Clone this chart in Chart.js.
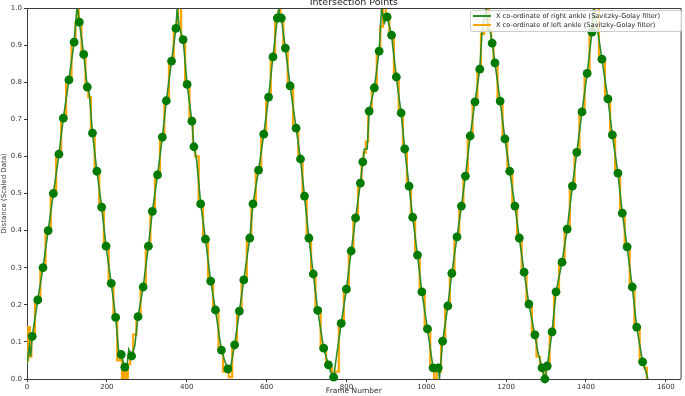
<!DOCTYPE html>
<html>
<head>
<meta charset="utf-8">
<script src="https://cdn.jsdelivr.net/npm/chart.js@4.4.0/dist/chart.umd.min.js"></script>
<style>
  html, body { margin: 0; padding: 0; background: #fff; }
</style>
</head>
<body>
<canvas id="chart_intersections" width="685" height="396"></canvas>
<script>
// frames where the two filtered ankle curves have a point
const frames = [
  0, 6, 9, 13, 27, 40, 53, 66, 80, 91, 105, 118, 125, 128, 131,
  142, 151, 156, 164, 175, 187, 198, 211, 222, 230, 236, 240, 245, 250, 255, 262, 270, 278,
  291, 304, 314, 327, 339, 349, 362, 373, 376, 381,
  391, 401, 413, 418, 425, 435, 447, 460, 472, 487, 495, 503, 508, 520, 532,
  543, 558, 566, 580, 593, 605, 616, 627, 631, 633, 637,
  647, 659, 674, 685, 695, 706, 717, 728, 743, 755, 760, 768, 775, 787,
  800, 812, 823, 835, 841, 845, 852, 857, 870, 882, 888, 895, 902, 913,
  925, 937, 946, 957, 966, 978, 989, 1003, 1017, 1022, 1030, 1033, 1041, 1054,
  1064, 1077, 1088, 1098, 1110, 1122, 1134, 1140, 1150, 1155, 1160, 1165, 1172,
  1185, 1197, 1209, 1222, 1233, 1245, 1257, 1272, 1280, 1290, 1297, 1303, 1315,
  1325, 1340, 1353, 1366, 1377, 1390, 1403, 1415, 1419, 1425,
  1440, 1455, 1466, 1480, 1491, 1503, 1516, 1527, 1542, 1550, 1555
];

let rightAnkle = [
  .04, .09, .06, .115, .213, .30, .40, .50, .606, .703, .806, .908, 1.0, .99, .962,
  .875, .787, .77, .663, .56, .463, .358, .258, .166, .07, .066, .05, .032, .03, .08, .062, .09, .168,
  .248, .358, .452, .55, .652, .75, .857, .945, 1.0, .95,
  .915, .794, .695, .626, .59, .472, .377, .264, .186, .078, .05, .027, .02, .092, .183,
  .267, .38, .472, .563, .66, .76, .868, .973, 1.0, .97, .973,
  .892, .79, .676, .593, .493, .38, .283, .185, .083, .038, .02, .005, .06, .15,
  .242, .345, .434, .528, .585, .62, .62, .722, .785, .884, 1.0, .96, .976, .927,
  .814, .717, .62, .52, .436, .334, .235, .135, .03, .02, .03, .0, .102, .197,
  .285, .383, .466, .547, .655, .747, .835, .94, 1.0, .94, .94, .905, .852,
  .749, .647, .56, .466, .38, .288, .202, .119, .07, .03, .0, .035, .127,
  .235, .315, .404, .52, .611, .72, .824, .935, 1.0, .97,
  .862, .755, .658, .555, .447, .356, .248, .14, .046, .02, .0
];

let leftAnkle = [
  .05, .14, .06, .115, .213, .30, .40, .50, .606, .703, .806, .908, .96, 1.0, .962,
  .875, .787, .76, .663, .56, .463, .358, .258, .166, .05, .066, .0, .032, .0, .04, .062, .12, .168,
  .248, .358, .452, .55, .652, .75, .857, .945, .96, 1.0,
  .915, .794, .695, .626, .60, .472, .377, .264, .186, .078, .02, .027, .005, .092, .183,
  .267, .38, .472, .563, .66, .76, .868, .973, .99, 1.0, .973,
  .892, .79, .676, .593, .493, .38, .283, .185, .083, .038, .03, .005, .02, .15,
  .242, .345, .434, .528, .585, .61, .64, .722, .785, .884, .95, 1.0, .976, .927,
  .814, .717, .62, .52, .436, .334, .235, .135, .03, .0, .03, .02, .102, .197,
  .285, .383, .466, .547, .655, .747, .835, .93, .94, 1.0, .94, .905, .852,
  .749, .647, .56, .466, .38, .288, .202, .119, .06, .03, .0, .035, .127,
  .235, .315, .404, .52, .611, .72, .824, .935, .97, 1.0,
  .862, .755, .658, .555, .447, .356, .248, .14, .046, .03, .0
];

// intersection points (green dots)
const crossFrames = [
  13, 27, 40, 53, 66, 80, 91, 105, 118, 131,
  142, 151, 164, 175, 187, 198, 211, 222, 236, 245, 262, 278,
  291, 304, 314, 327, 339, 349, 362, 373,
  391, 401, 413, 418, 435, 447, 460, 472, 487, 503, 520, 532,
  543, 558, 566, 580, 593, 605, 616, 627, 637,
  647, 659, 674, 685, 695, 706, 717, 728, 743, 755, 768, 787,
  800, 812, 823, 835, 841, 857, 870, 882, 902, 913,
  925, 937, 946, 957, 966, 978, 989, 1003, 1017, 1030, 1041, 1054,
  1064, 1077, 1088, 1098, 1110, 1122, 1134, 1165, 1172,
  1185, 1197, 1209, 1222, 1233, 1245, 1257, 1272, 1290, 1297, 1303, 1315,
  1325, 1340, 1353, 1366, 1377, 1390, 1403, 1415,
  1440, 1455, 1466, 1480, 1491, 1503, 1516, 1527, 1542
];
const crossValues = [
  .115, .213, .30, .40, .50, .606, .703, .806, .908, .962,
  .875, .787, .663, .56, .463, .358, .258, .166, .066, .032, .062, .168,
  .248, .358, .452, .55, .652, .75, .857, .945,
  .915, .794, .695, .626, .472, .377, .264, .186, .078, .027, .092, .183,
  .267, .38, .472, .563, .66, .76, .868, .973, .973,
  .892, .79, .676, .593, .493, .38, .283, .185, .083, .038, .005, .15,
  .242, .345, .434, .528, .585, .722, .785, .884, .976, .927,
  .814, .717, .62, .52, .436, .334, .235, .135, .03, .03, .102, .197,
  .285, .383, .466, .547, .655, .747, .835, .905, .852,
  .749, .647, .56, .466, .38, .288, .202, .119, .03, .0, .035, .127,
  .235, .315, .404, .52, .611, .72, .824, .935,
  .862, .755, .658, .555, .447, .356, .248, .14, .046
];

const xTicks = [0, 200, 400, 600, 800, 1000, 1200, 1400, 1600];
const yTicks = [0, 0.1, 0.2, 0.3, 0.4, 0.5, 0.6, 0.7, 0.8, 0.9, 1.0];

const seriesLabels = [
  "X co-ordinate of right ankle (Savitzky-Golay filter)",
  "X co-ordinate of left ankle (Savitzky-Golay filter)"
];

let lineColors = ["#2a8c2a", "#ffa500"];
let dotColor = "#007a00";
let axisColor = "#3a3a3a";
let fontName = "'DejaVu Sans', sans-serif";

// title, full frame box and the legend inside the plot
const framePlugin = {
    id: "frameAndLegend",
    afterDraw(chart) {
        const ctx = chart.ctx;
        const area = chart.chartArea;
        ctx.save();

        // top and right spines
        ctx.strokeStyle = axisColor;
        ctx.lineWidth = 1;
        ctx.beginPath();
        ctx.moveTo(area.left, area.top + 0.5);
        ctx.lineTo(area.right + 0.5, area.top + 0.5);
        ctx.lineTo(area.right + 0.5, area.bottom);
        ctx.stroke();

        // title (sits half above the canvas edge like the source)
        ctx.fillStyle = "#222";
        ctx.font = "9.5px " + fontName;
        ctx.textAlign = "center";
        ctx.textBaseline = "middle";
        ctx.fillText("Intersection Points", (area.left + area.right) / 2, 3);

        // legend box
        let boxX = 470, boxY = 10, boxW = 211, boxH = 21;
        ctx.fillStyle = "rgba(255,255,255,0.8)";
        ctx.strokeStyle = "#cccccc";
        ctx.beginPath();
        ctx.roundRect(boxX + 0.5, boxY + 0.5, boxW, boxH, 2);
        ctx.fill();
        ctx.stroke();

        ctx.font = "6.6px " + fontName;
        ctx.textAlign = "left";
        for (let i = 0; i < seriesLabels.length; i++) {
            let rowY = boxY + 6 + i * 9;
            ctx.strokeStyle = lineColors[i];
            ctx.lineWidth = 2;
            ctx.beginPath();
            ctx.moveTo(boxX + 3, rowY);
            ctx.lineTo(boxX + 21, rowY);
            ctx.stroke();
            ctx.fillStyle = "#222";
            ctx.fillText(seriesLabels[i], boxX + 26, rowY + 0.5);
        }
        ctx.restore();
    }
};

const ctx_intersections = document.getElementById("chart_intersections");

new Chart(ctx_intersections, {
    type: "line",
    data: {
        datasets: [
            {
                label: "Intersection Points",
                type: "scatter",
                data: crossFrames.map((f, i) => ({ x: f, y: crossValues[i] })),
                backgroundColor: dotColor,
                borderWidth: 0,
                pointRadius: 4.4,
                clip: false,
                order: 0
            },
            {
                label: seriesLabels[0],
                data: frames.map((f, i) => ({ x: f, y: rightAnkle[i] })),
                borderColor: lineColors[0],
                borderWidth: 1.6,
                pointRadius: 0,
                tension: 0,
                order: 1
            },
            {
                label: seriesLabels[1],
                data: frames.map((f, i) => ({ x: f, y: leftAnkle[i] })),
                borderColor: lineColors[1],
                borderWidth: 2.2,
                pointRadius: 0,
                stepped: "middle",
                order: 2
            }
        ]
    },
    options: {
        responsive: false,
        animation: false,
        devicePixelRatio: 1,
        layout: { padding: { top: 8, right: 3, left: 0, bottom: 0 } },
        plugins: {
            legend: { display: false },
            title: { display: false },
            tooltip: { enabled: false }
        },
        scales: {
            x: {
                type: "linear",
                min: 0,
                max: 1637,
                afterFit: (scale) => { scale.height = 17; },
                afterBuildTicks: (scale) => { scale.ticks = xTicks.map(v => ({ value: v })); },
                ticks: {
                    autoSkip: false,
                    maxRotation: 0,
                    padding: 1,
                    color: "#333",
                    font: { family: fontName, size: 7 },
                    callback: (v) => String(v)
                },
                grid: { drawOnChartArea: false, tickLength: 3, color: axisColor },
                border: { color: axisColor, width: 1 },
                title: {
                    display: true,
                    text: "Frame Number",
                    color: "#333",
                    padding: 0,
                    font: { family: fontName, size: 7.5 }
                }
            },
            y: {
                min: 0,
                max: 1,
                afterFit: (scale) => { scale.width = 27; },
                afterBuildTicks: (scale) => { scale.ticks = yTicks.map(v => ({ value: v })); },
                ticks: {
                    autoSkip: false,
                    padding: 2,
                    color: "#333",
                    font: { family: fontName, size: 7 },
                    callback: (v) => Number(v).toFixed(1)
                },
                grid: { drawOnChartArea: false, tickLength: 3, color: axisColor },
                border: { color: axisColor, width: 1 },
                title: {
                    display: true,
                    text: "Distance (Scaled Data)",
                    color: "#333",
                    padding: 0,
                    font: { family: fontName, size: 7 }
                }
            }
        }
    },
    plugins: [framePlugin]
});
</script>
</body>
</html>
